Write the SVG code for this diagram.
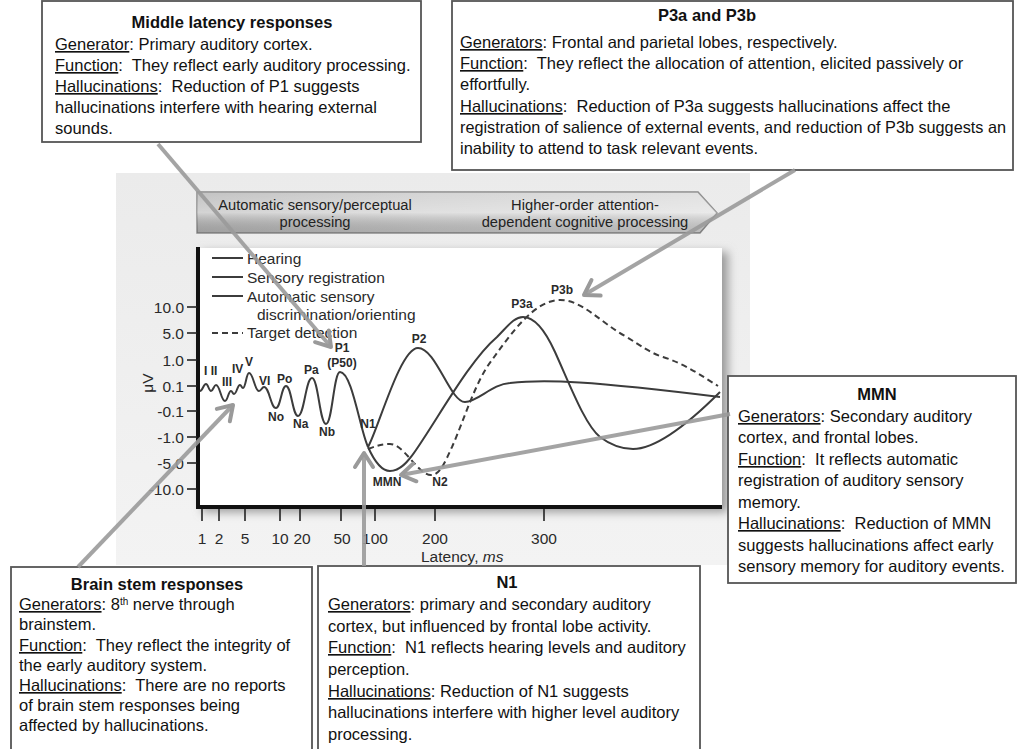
<svg xmlns="http://www.w3.org/2000/svg" width="1017" height="749" viewBox="0 0 1017 749">
<defs>
<style>
.box{fill:#fff;stroke:#555;stroke-width:1.8}
.bt{font-family:"Liberation Sans",Arial,sans-serif;font-size:16.5px;fill:#111;white-space:pre}
.bh{font-weight:bold;text-anchor:middle}
.u{text-decoration:underline}
.ch{font-family:"Liberation Sans",Arial,sans-serif;fill:#2a2a2a}
.lg{font-size:15.5px}
.ax{font-size:15.5px}
.yl{text-anchor:end}
.xl{text-anchor:middle}
.pk{font-size:12px;font-weight:bold}
.pm{text-anchor:middle}
.bn{font-size:14.7px;text-anchor:middle;fill:#222}
.cv{fill:none;stroke:#3c3c3c;stroke-width:2}
.dash{stroke-dasharray:6 4}
.tk{stroke:#222;stroke-width:1.6}
.arr{fill:none;stroke:#9a9a9a;stroke-width:4;stroke-opacity:0.9;marker-end:url(#ah)}
</style>
<marker id="ah" markerUnits="userSpaceOnUse" viewBox="-18 -13 22 26" markerWidth="22" markerHeight="26" refX="0" refY="0" orient="auto">
<path d="M-14,-9 L0,0 L-14,9" fill="none" stroke="#9a9a9a" stroke-width="4" stroke-linecap="round" stroke-linejoin="round"/>
</marker>
<linearGradient id="bang" x1="0" y1="0" x2="1" y2="0">
<stop offset="0" stop-color="#bcbcbc"/>
<stop offset="0.45" stop-color="#d0d0d0"/>
<stop offset="1" stop-color="#dedede"/>
</linearGradient>
<linearGradient id="banv" x1="0" y1="0" x2="0" y2="1">
<stop offset="0" stop-color="#fff" stop-opacity="0.1"/>
<stop offset="0.5" stop-color="#fff" stop-opacity="0.35"/>
<stop offset="1" stop-color="#000" stop-opacity="0.15"/>
</linearGradient>
<linearGradient id="panel" x1="0" y1="0" x2="0" y2="1">
<stop offset="0" stop-color="#ebebeb"/>
<stop offset="1" stop-color="#f3f3f3"/>
</linearGradient>
<filter id="sh" x="-10%" y="-10%" width="130%" height="130%">
<feGaussianBlur stdDeviation="5"/>
</filter>
</defs>
<rect width="1017" height="749" fill="#fff"/>

<g id="chart">
<rect x="116" y="173" width="634" height="392" fill="url(#panel)"/>
<rect x="202" y="252" width="526" height="260" fill="#999" filter="url(#sh)"/>
<rect x="198" y="248" width="524" height="259" fill="#fff"/>
<g id="banner">
<path d="M197,192 L698,192 L717,213 L700,233 L197,233 Z" fill="url(#bang)" stroke="#8a8a8a" stroke-width="1.5"/>
<path d="M197,192 L698,192 L717,213 L700,233 L197,233 Z" fill="url(#banv)"/>
<text class="ch bn" x="315" y="210">Automatic sensory/perceptual</text>
<text class="ch bn" x="315" y="227">processing</text>
<text class="ch bn" x="585" y="210">Higher-order attention-</text>
<text class="ch bn" x="585" y="227">dependent cognitive processing</text>
</g>
<g id="axes">
<line x1="198" y1="247" x2="198" y2="509" stroke="#111" stroke-width="4"/>
<line x1="196" y1="507" x2="722" y2="507" stroke="#111" stroke-width="4"/>
<g class="tk">
<line x1="187" y1="307" x2="197" y2="307"/>
<line x1="187" y1="333" x2="197" y2="333"/>
<line x1="187" y1="360" x2="197" y2="360"/>
<line x1="187" y1="386" x2="197" y2="386"/>
<line x1="187" y1="411" x2="197" y2="411"/>
<line x1="187" y1="437" x2="197" y2="437"/>
<line x1="187" y1="463" x2="197" y2="463"/>
<line x1="187" y1="489" x2="197" y2="489"/>
<line x1="202" y1="509" x2="202" y2="521"/>
<line x1="219" y1="509" x2="219" y2="521"/>
<line x1="245" y1="509" x2="245" y2="521"/>
<line x1="280" y1="509" x2="280" y2="521"/>
<line x1="300" y1="509" x2="300" y2="521"/>
<line x1="341" y1="509" x2="341" y2="521"/>
<line x1="375" y1="509" x2="375" y2="521"/>
<line x1="435" y1="509" x2="435" y2="521"/>
<line x1="544" y1="509" x2="544" y2="521"/>
</g>
<g class="ch ax yl">
<text x="184" y="312.5">10.0</text>
<text x="184" y="338.5">5.0</text>
<text x="184" y="365.5">1.0</text>
<text x="184" y="391.5">0.1</text>
<text x="184" y="416.5">-0.1</text>
<text x="184" y="442.5">-1.0</text>
<text x="184" y="468.5">-5.0</text>
<text x="184" y="494.5">-10.0</text>
</g>
<g class="ch ax xl">
<text x="202" y="544">1</text>
<text x="219" y="544">2</text>
<text x="245" y="544">5</text>
<text x="280" y="544">10</text>
<text x="302" y="544">20</text>
<text x="342" y="544">50</text>
<text x="375" y="544">100</text>
<text x="435" y="544">200</text>
<text x="544" y="544">300</text>
</g>
<text class="ch ax" x="421" y="562">Latency, <tspan font-style="italic">ms</tspan></text>
<text class="ch ax" transform="translate(153,383) rotate(-90)" text-anchor="middle">μV</text>
</g>
<g id="legend">
<line x1="212" y1="258" x2="243" y2="258" stroke="#3c3c3c" stroke-width="2"/>
<line x1="212" y1="277" x2="243" y2="277" stroke="#3c3c3c" stroke-width="2"/>
<line x1="212" y1="296" x2="243" y2="296" stroke="#3c3c3c" stroke-width="2"/>
<line x1="212" y1="333" x2="243" y2="333" stroke="#3c3c3c" stroke-width="2" stroke-dasharray="6 4"/>
<text class="ch lg" x="247" y="264">Hearing</text>
<text class="ch lg" x="247" y="283">Sensory registration</text>
<text class="ch lg" x="247" y="302">Automatic sensory</text>
<text class="ch lg" x="257" y="320">discrimination/orienting</text>
<text class="ch lg" x="247" y="338">Target detection</text>
</g>
<g id="curves">
<path class="cv" d="M200,391 C202.7,391 203.3,384 206,384 C208.25,384 208.75,391 211,391 C213.25,391 213.75,385 216,385 C220,385 221,401 225,401 C227.7,401 228.3,391 231,391 C232.4,391 232.6,394 234,394 C236.7,394 237.3,385 240,385 C241.4,385 241.6,388 243,388 C245.7,388 246.3,373 249,373 C253.5,373 254.5,391 259,391 C261.3,391 261.8,387 264,387 C269.4,387 270.6,408 276,408 C280.5,408 281.5,386 286,386 C291.4,386 292.6,416 298,416 C304.3,416 305.7,378 312,378 C318.3,378 319.7,424 326,424 C332.3,424 333.7,372 340,372 C352,372 360,430 368,447"/>
<path class="cv" d="M368,447 C372,456 380,471 390,471 C400,471 408,462 416,450 C440,415 470,360 497,337 C508,326 514,317 523,317 C535,317 545,330 555,352 C570,385 585,425 600,437 C612,446 622,449 633,449 C660,449 700,412 720,392"/>
<path class="cv" d="M368,447 C378,430 400,348 418,348 C436,348 450,402 465,402 C478,402 492,384 510,383 C545,379 590,381 720,397"/>
<path class="cv dash" d="M368,449 C376,446 382,444 390,444 C404,444 418,475 431,475 C440,475 445,462 452,447 C464,420 476,380 492,360 C512,332 535,300 560,300 C582,300 600,322 625,336 C640,345 650,353 663,357 C685,364 702,376 718,386"/>
</g>
<g id="peak-labels" class="ch pk">
<text x="204" y="375">I II</text>
<text x="222" y="386">III</text>
<text x="232" y="373">IV</text>
<text x="245" y="366">V</text>
<text x="259" y="385">VI</text>
<text x="277" y="383">Po</text>
<text x="268" y="421">No</text>
<text x="304" y="374">Pa</text>
<text x="293" y="428">Na</text>
<text x="319" y="436">Nb</text>
<text class="pm" x="342" y="352">P1</text>
<text class="pm" x="342" y="367">(P50)</text>
<text class="pm" x="368" y="428">N1</text>
<text class="pm" x="387" y="486">MMN</text>
<text class="pm" x="440" y="486">N2</text>
<text class="pm" x="419" y="343">P2</text>
<text class="pm" x="522" y="308">P3a</text>
<text class="pm" x="562" y="294">P3b</text>
</g>
</g>

<g id="middle-latency">
<rect class="box" x="42" y="1" width="379" height="141"/>
<text class="bt bh" x="232" y="28">Middle latency responses</text>
<text class="bt" x="55" y="50"><tspan class="u">Generator</tspan>: Primary auditory cortex.</text>
<text class="bt" x="55" y="71"><tspan class="u">Function</tspan>:  They reflect early auditory processing.</text>
<text class="bt" x="55" y="92"><tspan class="u">Hallucinations</tspan>:  Reduction of P1 suggests</text>
<text class="bt" x="55" y="113">hallucinations interfere with hearing external</text>
<text class="bt" x="55" y="134">sounds.</text>
</g>

<g id="p3a-p3b">
<rect class="box" x="452" y="1" width="561" height="169"/>
<text class="bt bh" x="707" y="21">P3a and P3b</text>
<text class="bt" x="460" y="48"><tspan class="u">Generators</tspan>: Frontal and parietal lobes, respectively.</text>
<text class="bt" x="460" y="69"><tspan class="u">Function</tspan>:  They reflect the allocation of attention, elicited passively or</text>
<text class="bt" x="460" y="90">effortfully.</text>
<text class="bt" x="460" y="112"><tspan class="u">Hallucinations</tspan>:  Reduction of P3a suggests hallucinations affect the</text>
<text class="bt" x="460" y="133" textLength="546" lengthAdjust="spacingAndGlyphs">registration of salience of external events, and reduction of P3b suggests an</text>
<text class="bt" x="460" y="154">inability to attend to task relevant events.</text>
</g>

<g id="mmn">
<rect class="box" x="728" y="376" width="288" height="207"/>
<text class="bt bh" x="877" y="400">MMN</text>
<text class="bt" x="738" y="422"><tspan class="u">Generators</tspan>: Secondary auditory</text>
<text class="bt" x="738" y="443">cortex, and frontal lobes.</text>
<text class="bt" x="738" y="465"><tspan class="u">Function</tspan>:  It reflects automatic</text>
<text class="bt" x="738" y="486">registration of auditory sensory</text>
<text class="bt" x="738" y="508">memory.</text>
<text class="bt" x="738" y="529"><tspan class="u">Hallucinations</tspan>:  Reduction of MMN</text>
<text class="bt" x="738" y="551">suggests hallucinations affect early</text>
<text class="bt" x="738" y="572">sensory memory for auditory events.</text>
</g>

<g id="brain-stem">
<rect class="box" x="11" y="567" width="301" height="200"/>
<text class="bt bh" x="157" y="590">Brain stem responses</text>
<text class="bt" x="19" y="610"><tspan class="u">Generators</tspan>: 8<tspan font-size="10" baseline-shift="super">th</tspan> nerve through</text>
<text class="bt" x="19" y="630">brainstem.</text>
<text class="bt" x="19" y="651"><tspan class="u">Function</tspan>:  They reflect the integrity of</text>
<text class="bt" x="19" y="671">the early auditory system.</text>
<text class="bt" x="19" y="691"><tspan class="u">Hallucinations</tspan>:  There are no reports</text>
<text class="bt" x="19" y="711">of brain stem responses being</text>
<text class="bt" x="19" y="731">affected by hallucinations.</text>
</g>

<g id="n1">
<rect class="box" x="318" y="566" width="382" height="200"/>
<text class="bt bh" x="507" y="588">N1</text>
<text class="bt" x="328" y="610"><tspan class="u">Generators</tspan>: primary and secondary auditory</text>
<text class="bt" x="328" y="632">cortex, but influenced by frontal lobe activity.</text>
<text class="bt" x="328" y="653"><tspan class="u">Function</tspan>:  N1 reflects hearing levels and auditory</text>
<text class="bt" x="328" y="675">perception.</text>
<text class="bt" x="328" y="697"><tspan class="u">Hallucinations</tspan>: Reduction of N1 suggests</text>
<text class="bt" x="328" y="718">hallucinations interfere with higher level auditory</text>
<text class="bt" x="328" y="740">processing.</text>
</g>

<g id="connectors">
<path class="arr" d="M158,144 L331,347"/>
<path class="arr" d="M795,170 L584,295"/>
<path class="arr" d="M730,414 L401,475"/>
<path class="arr" d="M364,566 L364,453"/>
<path class="arr" d="M78,567 L233,405"/>
</g>
</svg>
